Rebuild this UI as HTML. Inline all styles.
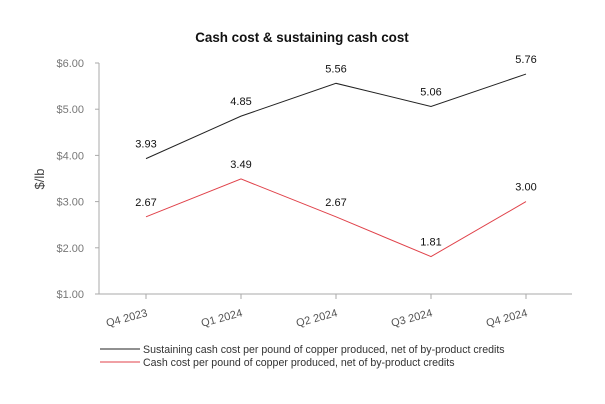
<!DOCTYPE html>
<html><head><meta charset="utf-8"><style>
body{margin:0;background:#fff;font-family:"Liberation Sans",Arial,sans-serif}
</style></head><body>
<svg width="605" height="404" style="display:block">
<text x="302" y="42" text-anchor="middle" font-size="13.4" font-weight="bold" fill="#111">Cash cost &amp; sustaining cash cost</text>
<text transform="translate(44,179) rotate(-90)" text-anchor="middle" font-size="13" fill="#444">$/lb</text>
<g id="axes"></g>
<g id="series"></g>
<g>
<line x1="100" y1="349" x2="140" y2="349" stroke="#222" stroke-width="1"/>
<text x="143" y="353" font-size="10.6" fill="#333">Sustaining cash cost per pound of copper produced, net of by-product credits</text>
<line x1="100" y1="362" x2="140" y2="362" stroke="#e0424a" stroke-width="1"/>
<text x="143" y="366" font-size="10.6" fill="#333">Cash cost per pound of copper produced, net of by-product credits</text>
</g>
</svg>
<script>
const categories=["Q4 2023","Q1 2024","Q2 2024","Q3 2024","Q4 2024"];
const sustaining=[3.93,4.85,5.56,5.06,5.76];
const cash=[2.67,3.49,2.67,1.81,3.00];
const yTicks=[1,2,3,4,5,6];
const NS="http://www.w3.org/2000/svg";
const x=i=>146+i*95;
const y=v=>294-(v-1)*46.2;
function mk(t,a,p){const e=document.createElementNS(NS,t);for(const k in a)e.setAttribute(k,a[k]);p.appendChild(e);return e;}
const ax=document.getElementById('axes');
const yl=mk('line',{x1:99,y1:y(6),x2:99,y2:294,stroke:'#aaa'},ax);


const xl=mk('line',{x1:99,y1:294,x2:572,y2:294,stroke:'#aaa'},ax);


yTicks.forEach(v=>{
 mk('line',{x1:95,y1:y(v),x2:99,y2:y(v),stroke:'#aaa'},ax);
 const t=mk('text',{x:84,y:y(v)+4,'text-anchor':'end','font-size':11,fill:'#777'},ax);
 t.textContent='$'+v.toFixed(2);
 
 
});
categories.forEach((c,i)=>{
 mk('line',{x1:x(i),y1:294,x2:x(i),y2:299,stroke:'#aaa'},ax);
 const t=mk('text',{x:x(i)+2,y:316,'text-anchor':'end','font-size':11,fill:'#555',transform:`rotate(-15 ${x(i)+2} 316)`},ax);
 t.textContent=c;
 
 
});
const sg=document.getElementById('series');
[[sustaining,'#222','sustaining-line'],[cash,'#e0424a','cash-line']].forEach(([d,col,nm])=>{
 const p=mk('polyline',{points:d.map((v,i)=>x(i)+','+y(v)).join(' '),fill:'none',stroke:col,'stroke-width':1},sg);
 
 
 d.forEach((v,i)=>{
  const t=mk('text',{x:x(i),y:y(v)-11,'text-anchor':'middle','font-size':11,fill:'#111'},sg);
  t.textContent=v.toFixed(2);
  
  
 });
});
</script>
</body></html>
